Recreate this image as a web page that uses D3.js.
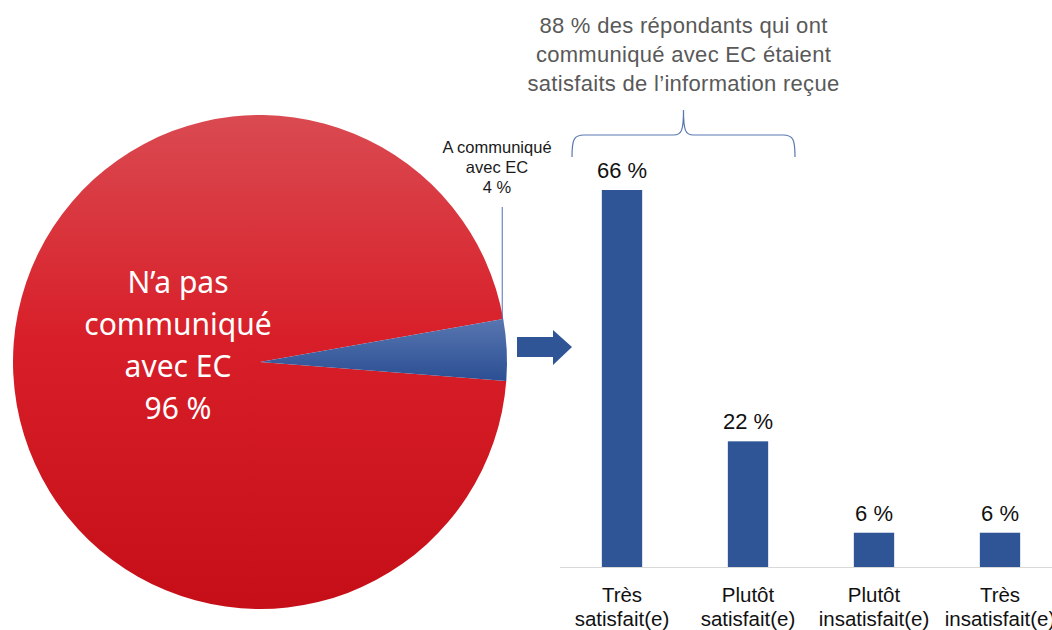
<!DOCTYPE html>
<html>
  <head>
    <meta charset="utf-8">
    <script src="https://d3js.org/d3.v7.min.js"></script>
    <style>
      body { margin: 0; background: #fff; }
      svg { display: block; }
    </style>
  </head>
  <body>
    <svg width="1052" height="630"></svg>

    <script>
      // pie data
      var pieNames = ["N’a pas communiqué avec EC", "A communiqué avec EC"];
      var pieValues = [96, 4];
      // bar data
      var categories = [
        ["Très", "satisfait(e)"],
        ["Plutôt", "satisfait(e)"],
        ["Plutôt", "insatisfait(e)"],
        ["Très", "insatisfait(e)"]
      ];
      var barValues = [66, 22, 6, 6];
      var titleLines = [
        "88 % des répondants qui ont",
        "communiqué avec EC étaient",
        "satisfaits de l’information reçue"
      ];

      var svg = d3.select("svg");
      var defs = svg.append("defs");

      var redGrad = defs.append("linearGradient")
        .attr("id", "redGrad").attr("x1", 0).attr("y1", 0).attr("x2", 0).attr("y2", 1);
      redGrad.append("stop").attr("offset", "0%").attr("stop-color", "#da4a51");
      redGrad.append("stop").attr("offset", "45%").attr("stop-color", "#d81f29");
      redGrad.append("stop").attr("offset", "100%").attr("stop-color", "#c50e17");

      var blueGrad = defs.append("linearGradient")
        .attr("id", "blueGrad").attr("x1", 0).attr("y1", 0).attr("x2", 0).attr("y2", 1);
      blueGrad.append("stop").attr("offset", "0%").attr("stop-color", "#5876b0");
      blueGrad.append("stop").attr("offset", "100%").attr("stop-color", "#2b4f94");

      // ---- pie ----
      var cx = 260, cy = 362, radius = 247;
      var deg = Math.PI / 180;
      var pie = d3.pie().sort(null)
        .startAngle(94.4 * deg)
        .endAngle(454.4 * deg);
      var arc = d3.arc().innerRadius(0).outerRadius(radius);

      var pg = svg.append("g").attr("transform", "translate(" + cx + "," + cy + ")");
      pg.selectAll("path")
        .data(pie(pieValues))
        .enter()
        .append("path")
        .attr("d", arc)
        .attr("fill", function (d, i) { return i === 0 ? "url(#redGrad)" : "url(#blueGrad)"; });

      // white label inside the big slice
      var bigLines = ["N’a pas", "communiqué", "avec EC", pieValues[0] + " %"];
      pg.append("text")
        .attr("fill", "#fff")
        .attr("font-family", "Noto Sans, sans-serif")
        .attr("font-size", 30)
        .attr("text-anchor", "middle")
        .selectAll("tspan")
        .data(bigLines)
        .enter()
        .append("tspan")
        .attr("x", -82)
        .attr("y", function (d, i) { return -69 + i * 42; })
        .text(function (d) { return d; });

      // small slice callout
      var small = pie(pieValues)[1];
      var edgeA = small.startAngle;
      var lx = Math.sin(edgeA) * radius - 1;
      var ly = -Math.cos(edgeA) * radius;
      pg.append("line")
        .attr("x1", lx).attr("x2", lx)
        .attr("y1", -155).attr("y2", ly + 2)
        .attr("stroke", "#4f73b6").attr("stroke-width", 1);
      pg.append("text")
        .attr("fill", "#1a1a1a")
        .attr("font-family", "Liberation Sans, Arial, sans-serif")
        .attr("font-size", 16.5)
        .attr("text-anchor", "middle")
        .selectAll("tspan")
        .data(["A communiqué", "avec EC", pieValues[1] + " %"])
        .enter()
        .append("tspan")
        .attr("x", 237)
        .attr("y", function (d, i) { return -209 + i * 20; })
        .text(function (d) { return d; });

      // arrow
      svg.append("path")
        .attr("d", "M517,337 L553,337 L553,330 L572,347 L553,365 L553,357 L517,357 Z")
        .attr("fill", "#2f5597");

      // ---- bars ----
      var baseY = 567;
      var x = d3.scaleBand()
        .domain(d3.range(categories.length))
        .range([559, 1063])
        .paddingInner(0.68)
        .paddingOuter(0.34);
      var y = d3.scaleLinear().domain([0, 66]).range([baseY, 190]);

      svg.append("line")
        .attr("x1", 560).attr("x2", 1052)
        .attr("y1", baseY + 0.5).attr("y2", baseY + 0.5)
        .attr("stroke", "#d9d9d9").attr("stroke-width", 1);

      svg.selectAll("rect.bar")
        .data(barValues)
        .enter()
        .append("rect")
        .attr("class", "bar")
        .attr("x", function (d, i) { return x(i); })
        .attr("width", x.bandwidth())
        .attr("y", function (d) { return y(d); })
        .attr("height", function (d) { return baseY - y(d); })
        .attr("fill", "#2f5597");

      svg.selectAll("text.val")
        .data(barValues)
        .enter()
        .append("text")
        .attr("class", "val")
        .attr("x", function (d, i) { return x(i) + x.bandwidth() / 2; })
        .attr("y", function (d) { return y(d) - 12; })
        .attr("text-anchor", "middle")
        .attr("font-family", "Liberation Sans, Arial, sans-serif")
        .attr("font-size", 22)
        .attr("fill", "#111")
        .text(function (d) { return d + " %"; });

      var cat = svg.selectAll("text.cat")
        .data(categories)
        .enter()
        .append("text")
        .attr("class", "cat")
        .attr("text-anchor", "middle")
        .attr("font-family", "Liberation Sans, Arial, sans-serif")
        .attr("font-size", 20.5)
        .attr("fill", "#111");
      cat.each(function (d, i) {
        d3.select(this).selectAll("tspan")
          .data(d)
          .enter()
          .append("tspan")
          .attr("x", x(i) + x.bandwidth() / 2)
          .attr("y", function (t, j) { return 602 + j * 24; })
          .text(function (t) { return t; });
      });

      // ---- brace + title ----
      var bL = x(0) + x.bandwidth() / 2 - 50;
      var bR = x(1) + x.bandwidth() / 2 + 47;
      var bM = (bL + bR) / 2;
      var bTop = 135, bBot = 157, bPeak = 110;
      var brace = d3.path();
      brace.moveTo(bL, bBot);
      brace.bezierCurveTo(bL, bTop + 4, bL + 2, bTop, bL + 12, bTop);
      brace.lineTo(bM - 10, bTop);
      brace.bezierCurveTo(bM - 2, bTop, bM, bTop - 4, bM, bPeak);
      brace.bezierCurveTo(bM, bTop - 4, bM + 2, bTop, bM + 10, bTop);
      brace.lineTo(bR - 12, bTop);
      brace.bezierCurveTo(bR - 2, bTop, bR, bTop + 4, bR, bBot);
      svg.append("path")
        .attr("d", brace.toString())
        .attr("fill", "none")
        .attr("stroke", "#5a78b0")
        .attr("stroke-width", 1.2);

      svg.append("text")
        .attr("text-anchor", "middle")
        .attr("font-family", "Liberation Sans, Arial, sans-serif")
        .attr("font-size", 22)
        .attr("letter-spacing", 0.3)
        .attr("fill", "#595959")
        .selectAll("tspan")
        .data(titleLines)
        .enter()
        .append("tspan")
        .attr("x", bM)
        .attr("y", function (d, i) { return 33 + i * 29; })
        .text(function (d) { return d; });
    </script>
  </body>
</html>
